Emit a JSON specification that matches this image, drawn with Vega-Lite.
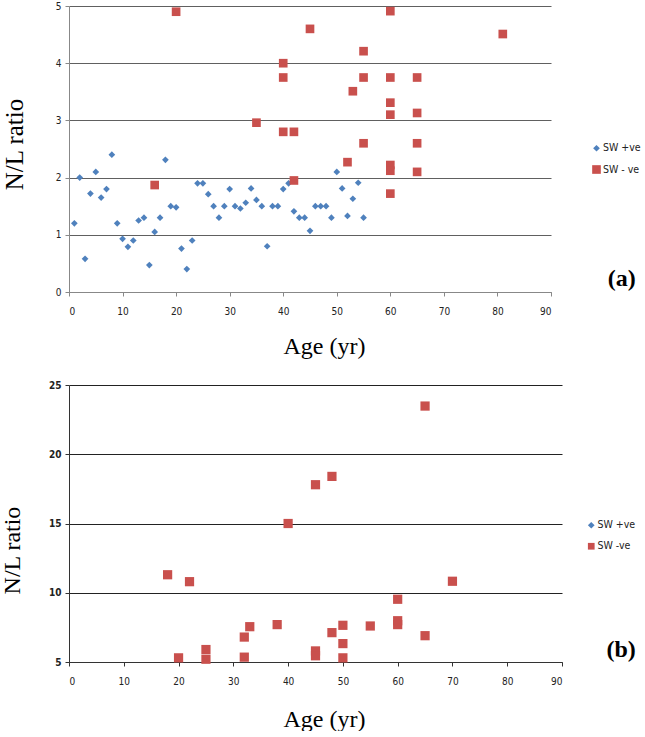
{
  "$schema": "https://vega.github.io/schema/vega-lite/v6.json",
  "padding": {"left": 0, "top": 1, "right": 0, "bottom": 0},
  "background": "white",
  "spacing": 22,
  "config": {
    "view": {"stroke": null},
    "axis": {
      "labelFont": "Liberation Sans Narrow, DejaVu Sans Condensed, sans-serif",
      "labelFontSize": 10,
      "labelColor": "#222",
      "titleFont": "Liberation Serif",
      "titleFontWeight": "normal",
      "titleColor": "#000",
      "tickSize": 4
    },
    "legend": {
      "orient": "none",
      "title": null,
      "labelFont": "Liberation Sans Narrow, DejaVu Sans Condensed, sans-serif",
      "labelFontSize": 10.5,
      "labelColor": "#222",
      "symbolSize": 45,
      "rowPadding": 10,
      "labelOffset": 1
    }
  },
  "resolve": {
    "scale": {"x": "independent", "y": "independent", "color": "independent", "shape": "independent", "size": "independent"},
    "legend": {"color": "independent", "shape": "independent"}
  },
  "vconcat": [
    {
      "width": 482,
      "height": 286,
      "layer": [
        {
          "data": {"values": [
            {"age": 1, "ratio": 1.2, "group": "SW +ve"},
            {"age": 2, "ratio": 2.0, "group": "SW +ve"},
            {"age": 3, "ratio": 0.58, "group": "SW +ve"},
            {"age": 4, "ratio": 1.72, "group": "SW +ve"},
            {"age": 5, "ratio": 2.1, "group": "SW +ve"},
            {"age": 6, "ratio": 1.65, "group": "SW +ve"},
            {"age": 7, "ratio": 1.8, "group": "SW +ve"},
            {"age": 8, "ratio": 2.4, "group": "SW +ve"},
            {"age": 9, "ratio": 1.2, "group": "SW +ve"},
            {"age": 10, "ratio": 0.93, "group": "SW +ve"},
            {"age": 11, "ratio": 0.79, "group": "SW +ve"},
            {"age": 12, "ratio": 0.9, "group": "SW +ve"},
            {"age": 13, "ratio": 1.25, "group": "SW +ve"},
            {"age": 14, "ratio": 1.3, "group": "SW +ve"},
            {"age": 15, "ratio": 0.47, "group": "SW +ve"},
            {"age": 16, "ratio": 1.05, "group": "SW +ve"},
            {"age": 17, "ratio": 1.3, "group": "SW +ve"},
            {"age": 18, "ratio": 2.31, "group": "SW +ve"},
            {"age": 19, "ratio": 1.5, "group": "SW +ve"},
            {"age": 20, "ratio": 1.48, "group": "SW +ve"},
            {"age": 21, "ratio": 0.76, "group": "SW +ve"},
            {"age": 22, "ratio": 0.4, "group": "SW +ve"},
            {"age": 23, "ratio": 0.9, "group": "SW +ve"},
            {"age": 24, "ratio": 1.9, "group": "SW +ve"},
            {"age": 25, "ratio": 1.9, "group": "SW +ve"},
            {"age": 26, "ratio": 1.71, "group": "SW +ve"},
            {"age": 27, "ratio": 1.5, "group": "SW +ve"},
            {"age": 28, "ratio": 1.3, "group": "SW +ve"},
            {"age": 29, "ratio": 1.5, "group": "SW +ve"},
            {"age": 30, "ratio": 1.8, "group": "SW +ve"},
            {"age": 31, "ratio": 1.5, "group": "SW +ve"},
            {"age": 32, "ratio": 1.46, "group": "SW +ve"},
            {"age": 33, "ratio": 1.56, "group": "SW +ve"},
            {"age": 34, "ratio": 1.81, "group": "SW +ve"},
            {"age": 35, "ratio": 1.61, "group": "SW +ve"},
            {"age": 36, "ratio": 1.5, "group": "SW +ve"},
            {"age": 37, "ratio": 0.8, "group": "SW +ve"},
            {"age": 38, "ratio": 1.5, "group": "SW +ve"},
            {"age": 39, "ratio": 1.5, "group": "SW +ve"},
            {"age": 40, "ratio": 1.8, "group": "SW +ve"},
            {"age": 41, "ratio": 1.9, "group": "SW +ve"},
            {"age": 42, "ratio": 1.41, "group": "SW +ve"},
            {"age": 43, "ratio": 1.3, "group": "SW +ve"},
            {"age": 44, "ratio": 1.3, "group": "SW +ve"},
            {"age": 45, "ratio": 1.07, "group": "SW +ve"},
            {"age": 46, "ratio": 1.5, "group": "SW +ve"},
            {"age": 47, "ratio": 1.5, "group": "SW +ve"},
            {"age": 48, "ratio": 1.5, "group": "SW +ve"},
            {"age": 49, "ratio": 1.3, "group": "SW +ve"},
            {"age": 50, "ratio": 2.1, "group": "SW +ve"},
            {"age": 51, "ratio": 1.81, "group": "SW +ve"},
            {"age": 52, "ratio": 1.33, "group": "SW +ve"},
            {"age": 53, "ratio": 1.63, "group": "SW +ve"},
            {"age": 54, "ratio": 1.91, "group": "SW +ve"},
            {"age": 55, "ratio": 1.3, "group": "SW +ve"},
            {"age": 16, "ratio": 1.87, "group": "SW - ve"},
            {"age": 20, "ratio": 4.9, "group": "SW - ve"},
            {"age": 35, "ratio": 2.96, "group": "SW - ve"},
            {"age": 40, "ratio": 4.0, "group": "SW - ve"},
            {"age": 40, "ratio": 3.75, "group": "SW - ve"},
            {"age": 40, "ratio": 2.8, "group": "SW - ve"},
            {"age": 42, "ratio": 2.8, "group": "SW - ve"},
            {"age": 42, "ratio": 1.95, "group": "SW - ve"},
            {"age": 45, "ratio": 4.6, "group": "SW - ve"},
            {"age": 52, "ratio": 2.27, "group": "SW - ve"},
            {"age": 53, "ratio": 3.51, "group": "SW - ve"},
            {"age": 55, "ratio": 4.21, "group": "SW - ve"},
            {"age": 55, "ratio": 3.75, "group": "SW - ve"},
            {"age": 55, "ratio": 2.6, "group": "SW - ve"},
            {"age": 60, "ratio": 4.91, "group": "SW - ve"},
            {"age": 60, "ratio": 3.75, "group": "SW - ve"},
            {"age": 60, "ratio": 3.31, "group": "SW - ve"},
            {"age": 60, "ratio": 3.1, "group": "SW - ve"},
            {"age": 60, "ratio": 2.22, "group": "SW - ve"},
            {"age": 60, "ratio": 2.12, "group": "SW - ve"},
            {"age": 60, "ratio": 1.72, "group": "SW - ve"},
            {"age": 65, "ratio": 3.75, "group": "SW - ve"},
            {"age": 65, "ratio": 3.13, "group": "SW - ve"},
            {"age": 65, "ratio": 2.6, "group": "SW - ve"},
            {"age": 65, "ratio": 2.1, "group": "SW - ve"},
            {"age": 81, "ratio": 4.51, "group": "SW - ve"}
          ]},
          "mark": {"type": "point", "filled": true, "opacity": 1},
          "encoding": {
            "x": {"field": "age", "type": "quantitative",
              "scale": {"domain": [0, 90], "nice": false, "zero": false},
              "axis": {"values": [0, 10, 20, 30, 40, 50, 60, 70, 80, 90], "grid": false, "title": "Age (yr)",
                "titleFontSize": 24, "titlePadding": 18, "titleX": 255, "titleAlign": "center", "labelPadding": 10,
                "domainColor": "#888", "tickColor": "#888"}},
            "y": {"field": "ratio", "type": "quantitative",
              "scale": {"domain": [0, 5], "nice": false},
              "axis": {"values": [0, 1, 2, 3, 4, 5], "format": "d", "grid": true, "gridColor": "#606060", "title": "N/L ratio",
                "titleFontSize": 25, "titleX": -55, "titleY": 138, "titleBaseline": "middle", "titleAlign": "center",
                "labelPadding": 4, "domainColor": "#888", "tickColor": "#888"}},
            "color": {"field": "group", "type": "nominal",
              "scale": {"domain": ["SW +ve", "SW - ve"], "range": ["#4F81BD", "#C9504D"]},
              "legend": {"legendX": 522, "legendY": 137}},
            "shape": {"field": "group", "type": "nominal",
              "scale": {"domain": ["SW +ve", "SW - ve"], "range": ["diamond", "square"]},
              "legend": {"legendX": 522, "legendY": 137}},
            "size": {"field": "group", "type": "nominal",
              "scale": {"domain": ["SW +ve", "SW - ve"], "range": [45, 75]}, "legend": null}
          }
        },
        {
          "data": {"values": [{}]},
          "mark": {"type": "text", "font": "Liberation Serif", "fontSize": 24, "fontWeight": "bold", "align": "center", "baseline": "middle", "fill": "#000"},
          "encoding": {
            "x": {"datum": 103.2, "type": "quantitative"},
            "y": {"datum": 0.23, "type": "quantitative"},
            "text": {"value": "(a)"}
          }
        }
      ]
    },
    {
      "width": 493,
      "height": 277,
      "layer": [
        {
          "data": {"values": [
            {"age": 18, "ratio": 11.3, "group": "SW -ve"},
            {"age": 20, "ratio": 5.3, "group": "SW -ve"},
            {"age": 22, "ratio": 10.8, "group": "SW -ve"},
            {"age": 25, "ratio": 5.9, "group": "SW -ve"},
            {"age": 25, "ratio": 5.2, "group": "SW -ve"},
            {"age": 32, "ratio": 6.8, "group": "SW -ve"},
            {"age": 32, "ratio": 5.35, "group": "SW -ve"},
            {"age": 33, "ratio": 7.55, "group": "SW -ve"},
            {"age": 38, "ratio": 7.7, "group": "SW -ve"},
            {"age": 40, "ratio": 15.0, "group": "SW -ve"},
            {"age": 45, "ratio": 17.8, "group": "SW -ve"},
            {"age": 45, "ratio": 5.8, "group": "SW -ve"},
            {"age": 45, "ratio": 5.45, "group": "SW -ve"},
            {"age": 48, "ratio": 18.4, "group": "SW -ve"},
            {"age": 48, "ratio": 7.12, "group": "SW -ve"},
            {"age": 50, "ratio": 7.65, "group": "SW -ve"},
            {"age": 50, "ratio": 6.33, "group": "SW -ve"},
            {"age": 50, "ratio": 5.3, "group": "SW -ve"},
            {"age": 55, "ratio": 7.6, "group": "SW -ve"},
            {"age": 60, "ratio": 9.53, "group": "SW -ve"},
            {"age": 60, "ratio": 7.98, "group": "SW -ve"},
            {"age": 60, "ratio": 7.7, "group": "SW -ve"},
            {"age": 65, "ratio": 23.48, "group": "SW -ve"},
            {"age": 65, "ratio": 6.9, "group": "SW -ve"},
            {"age": 70, "ratio": 10.83, "group": "SW -ve"}
          ]},
          "mark": {"type": "point", "filled": true, "opacity": 1, "size": 85},
          "encoding": {
            "x": {"field": "age", "type": "quantitative",
              "scale": {"domain": [0, 90], "nice": false, "zero": false},
              "axis": {"values": [0, 10, 20, 30, 40, 50, 60, 70, 80, 90], "grid": false, "title": "Age (yr)",
                "titleFontSize": 24, "titlePadding": 21, "titleX": 255, "titleAlign": "center", "labelPadding": 10,
                "domainColor": "#333", "tickColor": "#333"}},
            "y": {"field": "ratio", "type": "quantitative",
              "scale": {"domain": [5, 25], "nice": false, "zero": false},
              "axis": {"values": [5, 10, 15, 20, 25], "format": "d", "grid": true, "gridColor": "#222", "title": "N/L ratio",
                "titleFontSize": 24, "titleX": -57, "titleY": 165, "titleBaseline": "middle", "titleAlign": "center",
                "labelPadding": 4, "labelFontWeight": "bold", "domainColor": "#333", "tickColor": "#333"}},
            "color": {"field": "group", "type": "nominal",
              "scale": {"domain": ["SW +ve", "SW -ve"], "range": ["#4F81BD", "#C9504D"]},
              "legend": {"legendX": 517, "legendY": 135}},
            "shape": {"field": "group", "type": "nominal",
              "scale": {"domain": ["SW +ve", "SW -ve"], "range": ["diamond", "square"]},
              "legend": {"legendX": 517, "legendY": 135}}
          }
        },
        {
          "data": {"values": [{}]},
          "mark": {"type": "text", "font": "Liberation Serif", "fontSize": 24, "fontWeight": "bold", "align": "center", "baseline": "middle", "fill": "#000"},
          "encoding": {
            "x": {"datum": 100.8, "type": "quantitative"},
            "y": {"datum": 5.84, "type": "quantitative"},
            "text": {"value": "(b)"}
          }
        }
      ]
    }
  ]
}
